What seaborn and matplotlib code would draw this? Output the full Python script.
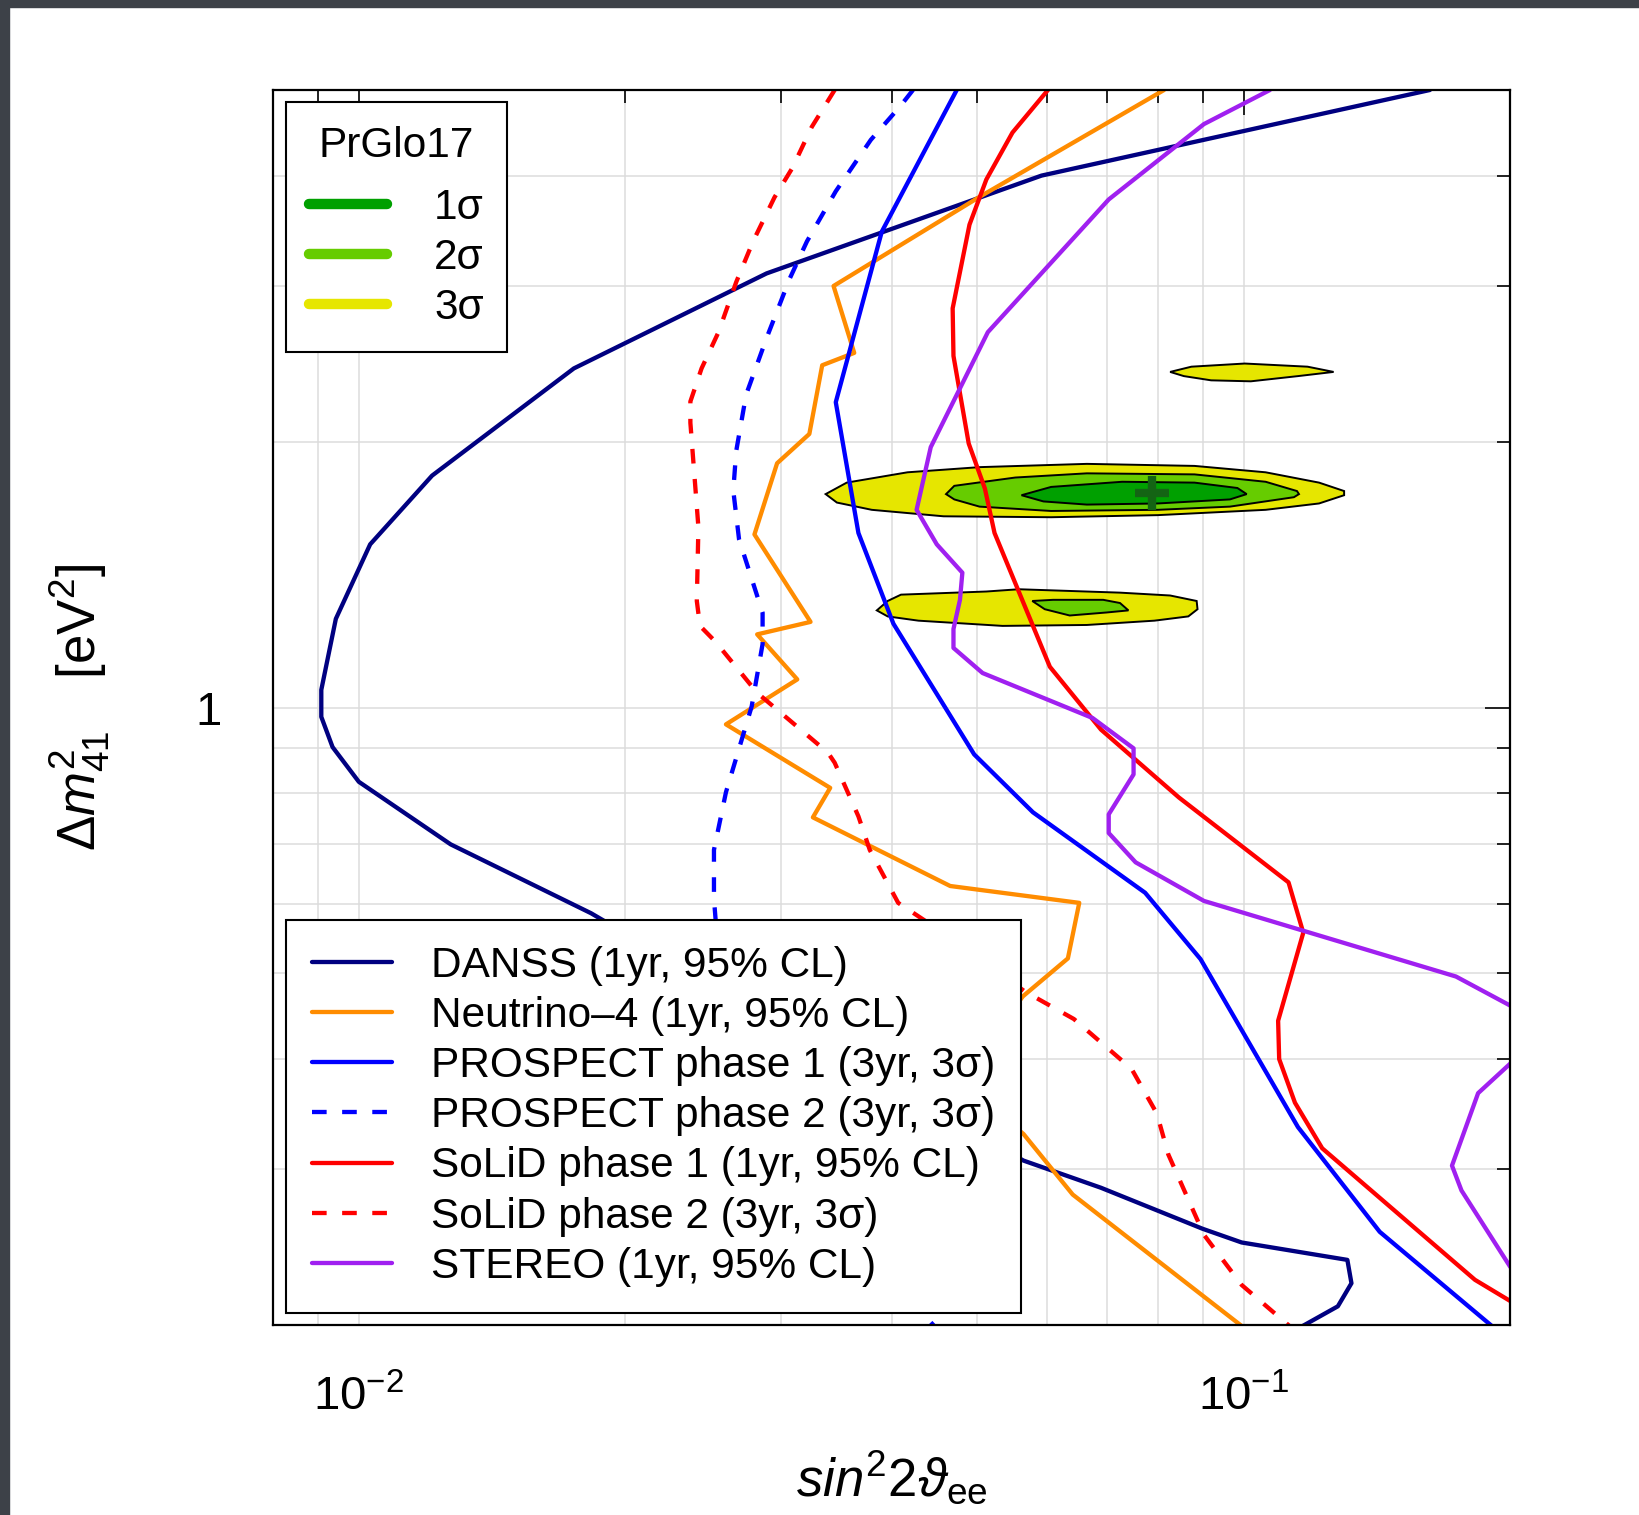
import matplotlib
matplotlib.use("Agg")
import matplotlib.pyplot as plt
import seaborn as sns
from matplotlib.lines import Line2D
from matplotlib.patches import Rectangle
from matplotlib.ticker import NullFormatter

# sensitivity curves: sin^2(2 theta_ee) vs dm^2_41 [eV^2]
danss_x = [0.1624, 0.0591, 0.0289, 0.0175, 0.0121, 0.0103, 0.00942, 0.00907, 0.00907,
           0.00934, 0.0100, 0.0127, 0.0183, 0.0329, 0.0564, 0.0690, 0.0899, 0.0995,
           0.1310, 0.1324, 0.1278, 0.1130]
danss_y = [5.0, 4.00, 3.10, 2.42, 1.83, 1.53, 1.26, 1.047, 0.976,
           0.902, 0.824, 0.700, 0.585, 0.415, 0.307, 0.286, 0.257, 0.248,
           0.237, 0.223, 0.210, 0.196]

nu4_x = [0.0813, 0.0502, 0.0344, 0.0363, 0.0334, 0.0323, 0.0297, 0.0280, 0.0324, 0.0282,
         0.0313, 0.0260, 0.0341, 0.0326, 0.0466, 0.0652, 0.0633, 0.0563, 0.0502, 0.0537,
         0.0564, 0.0641, 0.0995]
nu4_y = [5.0, 3.78, 3.00, 2.52, 2.44, 2.04, 1.89, 1.57, 1.25, 1.21,
         1.076, 0.957, 0.811, 0.751, 0.628, 0.601, 0.520, 0.471, 0.404, 0.343,
         0.329, 0.281, 0.1995]

prospect1_x = [0.0474, 0.0390, 0.0346, 0.0367, 0.0402, 0.0496, 0.0578, 0.0774, 0.0894,
               0.1152, 0.1425, 0.1908]
prospect1_y = [5.0, 3.456, 2.216, 1.576, 1.244, 0.885, 0.761, 0.617, 0.519,
               0.335, 0.255, 0.1995]

prospect2_x = [0.0423, 0.0409, 0.0379, 0.0346, 0.0321, 0.0307, 0.0289, 0.0274, 0.0267,
               0.0265, 0.0269, 0.0286, 0.0286, 0.0278, 0.0260, 0.0252, 0.0252, 0.0257,
               0.0279, 0.0367, 0.0448]
prospect2_y = [5.0, 4.79, 4.39, 3.84, 3.37, 3.06, 2.62, 2.26, 1.95,
               1.76, 1.55, 1.28, 1.18, 1.003, 0.802, 0.690, 0.607, 0.475,
               0.362, 0.247, 0.199]

solid1_x = [0.0601, 0.0548, 0.0512, 0.0490, 0.0469, 0.0470, 0.0489, 0.0510, 0.0523, 0.0604,
            0.0690, 0.0845, 0.1124, 0.1168, 0.1094, 0.1097, 0.1143, 0.1227, 0.1826, 0.2]
solid1_y = [5.0, 4.475, 3.96, 3.52, 2.83, 2.50, 1.99, 1.77, 1.576, 1.112,
            0.944, 0.791, 0.634, 0.556, 0.442, 0.400, 0.357, 0.317, 0.225, 0.213]

solid2_x = [0.0345, 0.0325, 0.0309, 0.0295, 0.0279, 0.0267, 0.0255, 0.0244, 0.0237, 0.0237,
            0.0242, 0.0241, 0.0243, 0.0253, 0.0282, 0.0339, 0.0345, 0.0367, 0.0378, 0.0407,
            0.0482, 0.0566, 0.0643, 0.0747, 0.0798, 0.0822, 0.0902, 0.0995, 0.1130]
solid2_y = [5.0, 4.54, 4.08, 3.78, 3.37, 3.03, 2.66, 2.42, 2.22, 2.10,
            1.60, 1.32, 1.237, 1.187, 1.039, 0.889, 0.866, 0.753, 0.690, 0.601,
            0.537, 0.477, 0.444, 0.390, 0.347, 0.312, 0.253, 0.222, 0.199]

stereo_x = [0.1071, 0.0902, 0.0704, 0.0514, 0.0443, 0.0427, 0.0450, 0.0481, 0.0478, 0.0470,
            0.0470, 0.0507, 0.0675, 0.0751, 0.0751, 0.0704, 0.0704, 0.0755, 0.0902, 0.1738,
            0.2, 0.2277, 0.2, 0.1841, 0.1720, 0.1763, 0.2, 0.2216]
stereo_y = [5.0, 4.575, 3.759, 2.660, 1.971, 1.674, 1.530, 1.421, 1.324, 1.227,
            1.168, 1.094, 0.973, 0.899, 0.840, 0.757, 0.721, 0.668, 0.604, 0.496,
            0.460, 0.426, 0.395, 0.366, 0.303, 0.284, 0.233, 0.204]

# PrGlo17 allowed regions
main3_x = [0.0337, 0.0356, 0.0417, 0.0503, 0.0665, 0.0880, 0.1059, 0.1217, 0.1299, 0.1299,
           0.1217, 0.1059, 0.0800, 0.0606, 0.0458, 0.0380, 0.0347]
main3_y = [1.744, 1.797, 1.846, 1.871, 1.887, 1.877, 1.846, 1.797, 1.758, 1.739,
           1.702, 1.674, 1.651, 1.642, 1.646, 1.674, 1.706]
main2_x = [0.0461, 0.0471, 0.0552, 0.0665, 0.0880, 0.1059, 0.1149, 0.1155, 0.1140, 0.0965,
           0.0800, 0.0606, 0.0503, 0.0471]
main2_y = [1.744, 1.782, 1.821, 1.841, 1.836, 1.801, 1.758, 1.744, 1.730, 1.688,
           1.674, 1.669, 1.688, 1.720]
main1_x = [0.0561, 0.0606, 0.0729, 0.0880, 0.0984, 0.1008, 0.0965, 0.0800, 0.0665, 0.0594]
main1_y = [1.739, 1.777, 1.801, 1.797, 1.772, 1.744, 1.720, 1.702, 1.697, 1.711]
low3_x = [0.0385, 0.0396, 0.0410, 0.0512, 0.0557, 0.0725, 0.0826, 0.0885, 0.0887, 0.0866,
          0.0793, 0.0665, 0.0534, 0.0429, 0.0396]
low3_y = [1.288, 1.320, 1.342, 1.353, 1.361, 1.349, 1.339, 1.320, 1.292, 1.268,
          1.254, 1.240, 1.237, 1.254, 1.268]
low2_x = [0.0577, 0.0609, 0.0694, 0.0725, 0.0741, 0.0700, 0.0636, 0.0596]
low2_y = [1.320, 1.324, 1.324, 1.313, 1.288, 1.281, 1.271, 1.292]
up3_x = [0.0826, 0.0873, 0.1003, 0.1181, 0.1264, 0.1152, 0.1019, 0.0919, 0.0856]
up3_y = [2.398, 2.431, 2.451, 2.431, 2.398, 2.372, 2.340, 2.346, 2.372]
best_fit_x = [0.0787]
best_fit_y = [1.749]

x_major = [0.01, 0.1]
x_major_labels = [r'$10^{-2}$', r'$10^{-1}$']
x_minor = [0.008, 0.009, 0.02, 0.03, 0.04, 0.05, 0.06, 0.07, 0.08, 0.09, 0.2]
y_major = [1]
y_major_labels = ['1']
y_minor = [0.2, 0.3, 0.4, 0.5, 0.6, 0.7, 0.8, 0.9, 2, 3, 4, 5]

sigma_labels = ['1σ', '2σ', '3σ']
sigma_colors = ['#00A000', '#66CC00', '#E6E600']

curve_labels = ['DANSS (1yr, 95% CL)', 'Neutrino–4 (1yr, 95% CL)',
                'PROSPECT phase 1 (3yr, 3σ)', 'PROSPECT phase 2 (3yr, 3σ)',
                'SoLiD phase 1 (1yr, 95% CL)', 'SoLiD phase 2 (3yr, 3σ)',
                'STEREO (1yr, 95% CL)']
curve_colors = ['#000080', '#FF8C00', '#0000FF', '#0000FF', '#FF0000', '#FF0000', '#A020F0']
DASH = (0, (3.4, 3.6))
curve_styles = ['-', '-', '-', DASH, '-', DASH, '-']
LW = 3.1


def setup_style():
    sns.set_theme(style='white')
    plt.rcParams['font.family'] = ['Liberation Sans', 'DejaVu Sans']
    plt.rcParams['mathtext.fontset'] = 'custom'
    plt.rcParams['mathtext.rm'] = 'Liberation Sans'
    plt.rcParams['mathtext.it'] = 'Liberation Sans:italic'
    plt.rcParams['mathtext.bf'] = 'Liberation Sans:bold'
    plt.rcParams['mathtext.sf'] = 'Liberation Sans'
    for key in ['text.color', 'axes.labelcolor', 'xtick.color', 'ytick.color']:
        plt.rcParams[key] = 'black'


def draw_regions(ax):
    for xs, ys, c in [(main3_x, main3_y, sigma_colors[2]), (main2_x, main2_y, sigma_colors[1]),
                      (main1_x, main1_y, sigma_colors[0]), (low3_x, low3_y, sigma_colors[2]),
                      (low2_x, low2_y, sigma_colors[1]), (up3_x, up3_y, sigma_colors[2])]:
        ax.fill(xs, ys, facecolor=c, edgecolor='black', lw=1.4, zorder=1)
    ax.plot(best_fit_x, best_fit_y, marker='+', ms=24, mew=6, color='#146414',
            ls='none', zorder=1.5)


def draw_curves(ax):
    data = [(danss_x, danss_y), (nu4_x, nu4_y), (prospect1_x, prospect1_y),
            (prospect2_x, prospect2_y), (solid1_x, solid1_y), (solid2_x, solid2_y),
            (stereo_x, stereo_y)]
    for (xs, ys), c, ls in zip(data, curve_colors, curve_styles):
        sns.lineplot(x=xs, y=ys, sort=False, estimator=None, ax=ax, color=c,
                     lw=LW, linestyle=ls, zorder=2)


def draw_legends(ax):
    h1 = [Line2D([], [], color=c, lw=7.5, solid_capstyle='round') for c in sigma_colors]
    leg1 = ax.legend(h1, sigma_labels, title='PrGlo17', loc='upper left',
                     bbox_to_anchor=(0.0102, 0.9899), borderaxespad=0, fontsize=30.5,
                     title_fontsize=30.5, frameon=True, fancybox=False, framealpha=1,
                     edgecolor='black', borderpad=0.55, handlelength=1.85,
                     handletextpad=1.1, labelspacing=0.24)
    leg1.get_frame().set_linewidth(1.5)
    leg1._legend_box.sep = 16
    ax.add_artist(leg1)

    h2 = [Line2D([], [], color=c, lw=LW, linestyle=ls)
          for c, ls in zip(curve_colors, curve_styles)]
    leg2 = ax.legend(h2, curve_labels, loc='lower left', bbox_to_anchor=(0.0102, 0.0097),
                     borderaxespad=0, fontsize=30.5, frameon=True, fancybox=False,
                     framealpha=1, edgecolor='black', borderpad=0.62, handlelength=1.9,
                     handletextpad=0.9, labelspacing=0.24)
    leg2.get_frame().set_linewidth(1.5)


def main():
    setup_style()
    fig = plt.figure(figsize=(16.4, 15.15), dpi=100)
    fig.patches.append(Rectangle((0, 0), 0.0052, 1, transform=fig.transFigure,
                                 color='#3d4148', zorder=0))
    fig.patches.append(Rectangle((0, 0.9954), 1, 0.0046, transform=fig.transFigure,
                                 color='#3d4148', zorder=0))
    ax = fig.add_axes([0.1665, 0.1254, 0.7542, 0.8152])
    ax.set_xscale('log')
    ax.set_yscale('log')

    draw_regions(ax)
    draw_curves(ax)

    ax.set_xlim(0.008, 0.2)
    ax.set_ylim(0.2, 5)
    ax.set_xticks(x_major, x_major_labels)
    ax.set_xticks(x_minor, minor=True)
    ax.set_yticks(y_major, y_major_labels)
    ax.set_yticks(y_minor, minor=True)
    ax.xaxis.set_minor_formatter(NullFormatter())
    ax.yaxis.set_minor_formatter(NullFormatter())
    ax.tick_params(which='both', direction='in', top=True, right=True, width=1.2,
                   color='black', labelsize=34)
    ax.tick_params(which='major', length=18)
    ax.tick_params(which='minor', length=9.4)
    ax.tick_params(axis='x', which='major', pad=36)
    ax.tick_params(axis='y', which='major', pad=37)
    ax.grid(True, which='both', color='#dcdcdc', lw=1.1)
    ax.set_axisbelow(True)
    for s in ax.spines.values():
        s.set_color('black')
        s.set_linewidth(1.6)

    ax.set_xlabel(r'$\mathit{sin}^{2}\mathrm{2}\vartheta_{\mathrm{ee}}$', fontsize=38)
    ax.xaxis.set_label_coords(0.5, -0.10)
    ax.set_ylabel(r'$\Delta m^{2}_{41}\quad\,[\mathrm{eV}^{2}]$', fontsize=38)
    ax.yaxis.set_label_coords(-0.13, 0.5)

    draw_legends(ax)
    fig.savefig('out.png', dpi=100)


if __name__ == "__main__":
    main()
